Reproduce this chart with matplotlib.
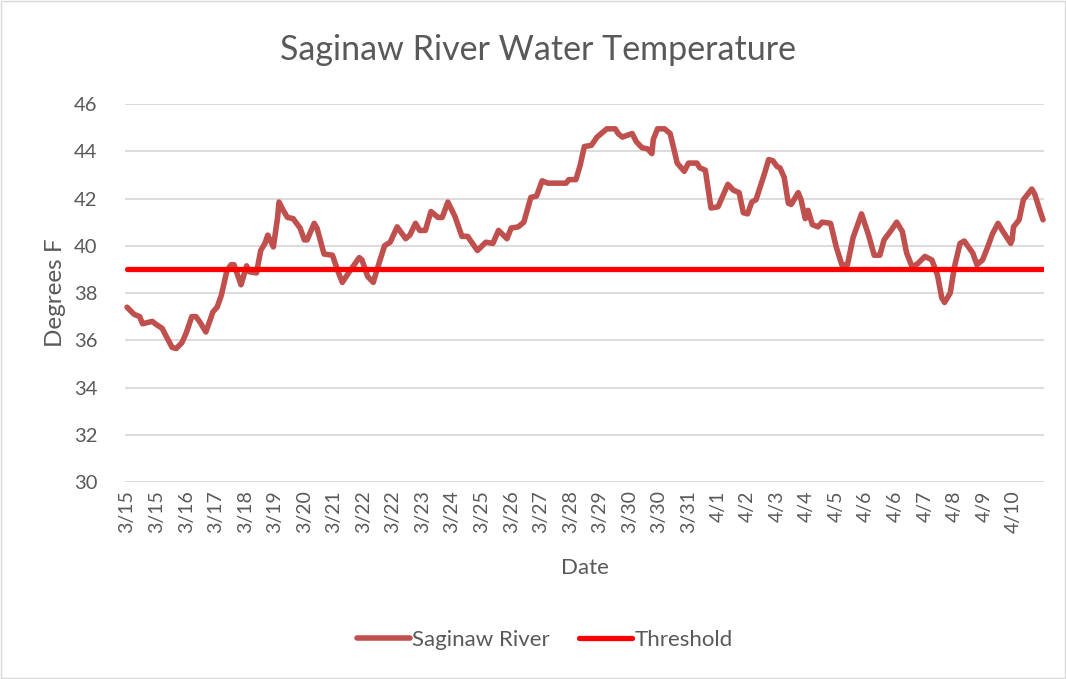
import matplotlib
matplotlib.use("Agg")
from matplotlib import pyplot as plt
from matplotlib.patches import Rectangle

plt.rcParams['font.family'] = ['Lato', 'DejaVu Sans']

# reading number (a date label every 21 readings) and temperature
reading = [0, 5, 9, 11, 18, 20, 25, 28, 32, 35, 39, 42, 46, 49, 52, 56, 59, 61, 64, 67,
           71, 74, 76, 81, 85, 87, 92, 95, 98, 100, 104, 107, 108, 111, 114, 118, 123, 126, 128, 133,
           135, 140, 146, 150, 153, 158, 165, 167, 171, 175, 178, 183, 187, 192, 198, 201, 205, 208, 212, 216,
           221, 224, 228, 233, 238, 242, 249, 255, 260, 264, 270, 273, 278, 282, 287, 291, 295, 299, 312, 314,
           319, 322, 325, 330, 334, 338, 341, 347, 349, 352, 359, 362, 366, 370, 373, 374, 377, 382, 386, 389,
           391, 396, 399, 405, 407, 411, 413, 415, 420, 427, 431, 435, 438, 441, 444, 447, 453, 456, 459, 462,
           464, 467, 470, 472, 477, 479, 482, 484, 487, 491, 494, 500, 504, 508, 512, 516, 522, 527, 531, 535,
           538, 543, 547, 551, 554, 558, 562, 567, 572, 576, 579, 581, 585, 588, 592, 595, 601, 604, 608, 612,
           615, 619, 622, 628, 629, 630, 634, 637, 643, 645, 649, 651]
temp_f = [37.4, 37.1, 37.0, 36.7, 36.8, 36.7, 36.5, 36.15, 35.7, 35.65, 35.9, 36.3, 37.0, 37.0, 36.75, 36.35, 36.85, 37.2, 37.4, 37.9,
          38.95, 39.2, 39.2, 38.35, 39.15, 38.9, 38.85, 39.8, 40.1, 40.45, 39.95, 41.2, 41.85, 41.5, 41.2, 41.15, 40.75, 40.25, 40.25, 40.95,
          40.75, 39.65, 39.6, 38.9, 38.45, 38.9, 39.5, 39.4, 38.7, 38.45, 39.05, 40.0, 40.15, 40.8, 40.3, 40.45, 40.95, 40.65, 40.65, 41.45,
          41.2, 41.2, 41.85, 41.25, 40.4, 40.4, 39.8, 40.15, 40.1, 40.65, 40.3, 40.75, 40.8, 41.0, 42.05, 42.1, 42.75, 42.65, 42.65, 42.8,
          42.8, 43.4, 44.2, 44.25, 44.6, 44.8, 44.95, 44.95, 44.75, 44.6, 44.75, 44.4, 44.15, 44.1, 43.9, 44.5, 44.95, 44.95, 44.75, 44.0,
          43.5, 43.15, 43.5, 43.5, 43.3, 43.2, 42.4, 41.6, 41.65, 42.6, 42.35, 42.25, 41.4, 41.35, 41.85, 41.95, 43.05, 43.65, 43.6, 43.35,
          43.3, 42.9, 41.8, 41.75, 42.25, 41.95, 41.15, 41.5, 40.9, 40.8, 41.0, 40.95, 39.95, 39.2, 39.2, 40.35, 41.35, 40.45, 39.6, 39.6,
          40.25, 40.65, 41.0, 40.6, 39.7, 39.1, 39.25, 39.55, 39.4, 38.75, 37.8, 37.6, 38.0, 39.1, 40.1, 40.2, 39.7, 39.2, 39.4, 40.0,
          40.5, 40.95, 40.65, 40.1, 40.25, 40.8, 41.1, 41.95, 42.4, 42.2, 41.45, 41.1]
threshold = 39

date_labels = ['3/15', '3/15', '3/16', '3/17', '3/18', '3/19', '3/20', '3/21', '3/22', '3/22',
               '3/23', '3/24', '3/25', '3/26', '3/27', '3/28', '3/29', '3/30', '3/30', '3/31',
               '4/1', '4/2', '4/3', '4/4', '4/5', '4/6', '4/6', '4/7', '4/8', '4/9', '4/10']
label_step = 21

grey = '#595959'

fig = plt.figure(figsize=(10.66, 6.79), dpi=100)
ax = fig.add_axes([0.1173, 0.2901, 0.9794 - 0.1173, 0.8468 - 0.2901])

ax.plot(reading, temp_f, color='#C0504D', lw=4.0, solid_joinstyle='round',
        solid_capstyle='round', label='Saginaw River', clip_on=False, zorder=3)
ax.plot([reading[0], reading[-1]], [threshold, threshold], color='#FF0000', lw=3.8,
        solid_capstyle='round', label='Threshold', zorder=4)

ax.set_ylim(30, 46)
ax.set_yticks(range(30, 47, 2))
ax.set_xlim(-1.42, 651.7)
ticks = [i * label_step for i in range(len(date_labels))]
ax.set_xticks(ticks)
ax.set_xticklabels(date_labels, rotation=90)

ax.grid(axis='y', color='#D9D9D9', lw=1.3)
ax.set_axisbelow(True)
for s in ax.spines.values():
    s.set_visible(False)
ax.tick_params(length=0, labelcolor=grey)
ax.tick_params(axis='y', pad=20, labelsize=14.5)
ax.tick_params(axis='x', pad=6, labelsize=14)

ax.set_xlabel('Date', fontsize=16, color=grey)
ax.xaxis.set_label_coords(0.5, (482 - 558) / 378)
ax.set_ylabel('Degrees F', fontsize=17.5, color=grey)
ax.yaxis.set_label_coords((66 - 125) / 919, 0.5)
fig.text(0.505, 1 - 50 / 679, 'Saginaw River Water Temperature', ha='center', va='center',
         fontsize=24.5, color=grey)

leg = ax.legend(loc='center', bbox_to_anchor=(0.511, 1 - 640 / 679), bbox_transform=fig.transFigure,
                ncol=2, frameon=False, fontsize=16, handlelength=2.4, handletextpad=0.1,
                columnspacing=1.3)
for t in leg.get_texts():
    t.set_color(grey)

fig.patches.append(Rectangle((0.001, 0.001), 0.998, 0.998, transform=fig.transFigure,
                             fill=False, edgecolor='#D9D9D9', lw=1))

plt.savefig('out.png', dpi=100)
